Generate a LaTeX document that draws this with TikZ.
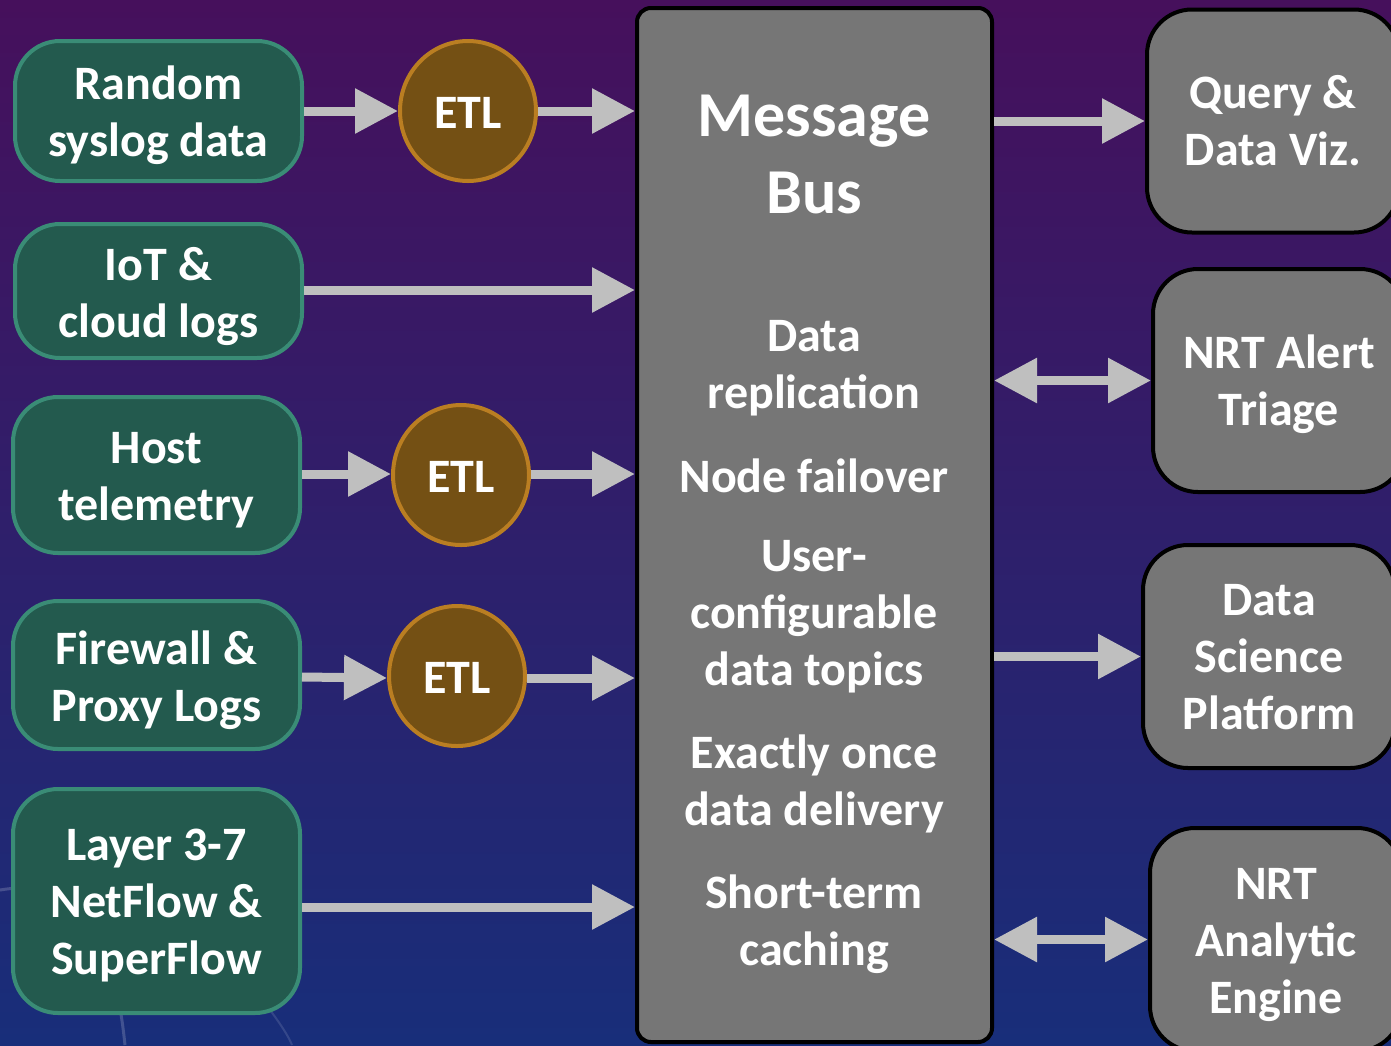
\documentclass[tikz,border=0pt]{standalone}
\usepackage{fontspec}
\setmainfont{Carlito}
\usetikzlibrary{arrows.meta,shapes.geometric,calc}
\definecolor{bgtop}{RGB}{70,16,92}
\definecolor{bgmid}{RGB}{46,28,108}
\definecolor{bgbot}{RGB}{24,46,122}
\definecolor{srcfill}{RGB}{35,90,78}
\definecolor{srcline}{RGB}{58,140,118}
\definecolor{etlfill}{RGB}{116,80,20}
\definecolor{etlline}{RGB}{186,126,34}
\definecolor{boxgray}{RGB}{118,118,118}
\definecolor{arrgray}{RGB}{191,191,191}
\tikzset{
  txt/.style={text=white,align=center,font=\bfseries\fontsize{48}{57}\selectfont,inner sep=0pt},
  srcbox/.style={draw=srcline,fill=srcfill,line width=4pt,rounded corners=45pt,
     minimum width=287pt,inner sep=0pt},
  etlnode/.style={ellipse,draw=etlline,fill=etlfill,line width=4pt,
     minimum width=136pt,minimum height=140pt,inner sep=0pt},
  outbox/.style={draw=black,fill=boxgray,line width=4pt,rounded corners=45pt,
     minimum width=252pt,minimum height=223pt,inner sep=0pt},
  busbox/.style={draw=black,fill=boxgray,line width=4pt,rounded corners=14pt,
     minimum width=355pt,minimum height=1034pt,inner sep=0pt},
  flow/.style={draw=arrgray,line width=9pt,-{Triangle[length=43pt,width=43pt]}},
  flow2/.style={draw=arrgray,line width=9pt,{Triangle[length=43pt,width=43pt]}-{Triangle[length=43pt,width=43pt]}}
}
\begin{document}
\begin{tikzpicture}[x=1pt,y=-1pt]
\useasboundingbox (0,0) rectangle (1391,1045);
\clip (0,0) rectangle (1391,1045);
\shade[top color=bgtop,middle color=bgmid,bottom color=bgbot] (0,0) rectangle (1391,1045);
% faint background arcs
\draw[white,opacity=0.18,line width=3pt] (0,890) .. controls (60,880) and (110,900) .. (125,1045);
\draw[white,opacity=0.12,line width=2pt] (270,1010) .. controls (285,1030) and (290,1040) .. (292,1045);

% sources
\node[srcbox,minimum height=140pt] (src1) at (158.5,111) {};
\node[srcbox,minimum height=134pt] (src2) at (158.5,291) {};
\node[srcbox,minimum height=156pt] (src3) at (156.5,475) {};
\node[srcbox,minimum height=148pt] (src4) at (156.5,675) {};
\node[srcbox,minimum height=224pt] (src5) at (156.5,901) {};
\node[txt] (src1t) at ([yshift=-4pt]src1.center) {Random\\syslog data};
\node[txt] (src2t) at ([yshift=-5pt]src2.center) {IoT \&\\cloud logs};
\node[txt] (src3t) at ([yshift=-5pt]src3.center) {Host\\telemetry};
\node[txt] (src4t) at ([yshift=-5pt]src4.center) {Firewall \&\\Proxy Logs};
\node[txt] (src5t) at ([yshift=-5pt]src5.center) {Layer 3-7\\NetFlow \&\\SuperFlow};

% ETL
\node[etlnode] (etl1) at (468,111) {};
\node[etlnode] (etl2) at (461,475) {};
\node[etlnode] (etl3) at (457,676) {};
\node[txt] (etl1t) at ([yshift=-2pt]etl1.center) {ETL};
\node[txt] (etl2t) at ([yshift=-2pt]etl2.center) {ETL};
\node[txt] (etl3t) at ([yshift=-2pt]etl3.center) {ETL};

% bus
\node[busbox] (bus) at (814.5,525) {};
\node[txt,font=\bfseries\fontsize{64}{77}\selectfont] (bustitle) at (814,154) {Message\\Bus};
\node[txt] (b1) at (814,368) {Data\\replication};
\node[txt] (b2) at (814,476) {Node failover};
\node[txt] (b3) at (814,617) {User-\\configurable\\data topics};
\node[txt] (b4) at (814,784) {Exactly once\\data delivery};
\node[txt] (b5) at (814,924) {Short-term\\caching};

% outputs
\node[outbox] (o1) at (1273,121) {};
\node[outbox] (o2) at (1279,380.5) {};
\node[outbox] (o3) at (1269,656.5) {};
\node[outbox] (o4) at (1276,939.5) {};
\node[txt] (o1t) at ([yshift=0pt]o1.center) {Query \&\\Data Viz.};
\node[txt] (o2t) at ([yshift=-4pt]o2.center) {NRT Alert\\Triage};
\node[txt] (o3t) at ([yshift=-1pt]o3.center) {Data\\Science\\Platform};
\node[txt] (o4t) at ([yshift=-5pt]o4.center) {NRT\\Analytic\\Engine};

% connectors in
\draw[flow] (src1.east) -- (etl1.west);
\draw[flow] (etl1.east) -- (etl1.east -| bus.west);
\draw[flow] ([yshift=1pt]src2.east) -- ([yshift=1pt]src2.east -| bus.west);
\draw[flow] ([yshift=1pt]src3.east) -- ([yshift=1pt]etl2.west);
\draw[flow] ([yshift=1pt]etl2.east) -- ([yshift=1pt]etl2.east -| bus.west);
\draw[flow] ([yshift=-2pt]src4.east) -- ([yshift=-2pt]etl3.west);
\draw[flow] ([yshift=-2pt]etl3.east) -- ([yshift=-2pt]etl3.east -| bus.west);
\draw[flow] ([yshift=-6pt]src5.east) -- ([yshift=-6pt]src5.east -| bus.west);

% connectors out
\draw[flow] (o1.west -| bus.east) -- (o1.west);
\draw[flow2] (o2.west -| bus.east) -- (o2.west);
\draw[flow] (o3.west -| bus.east) -- (o3.west);
\draw[flow2] (o4.west -| bus.east) -- (o4.west);
\end{tikzpicture}
\end{document}
